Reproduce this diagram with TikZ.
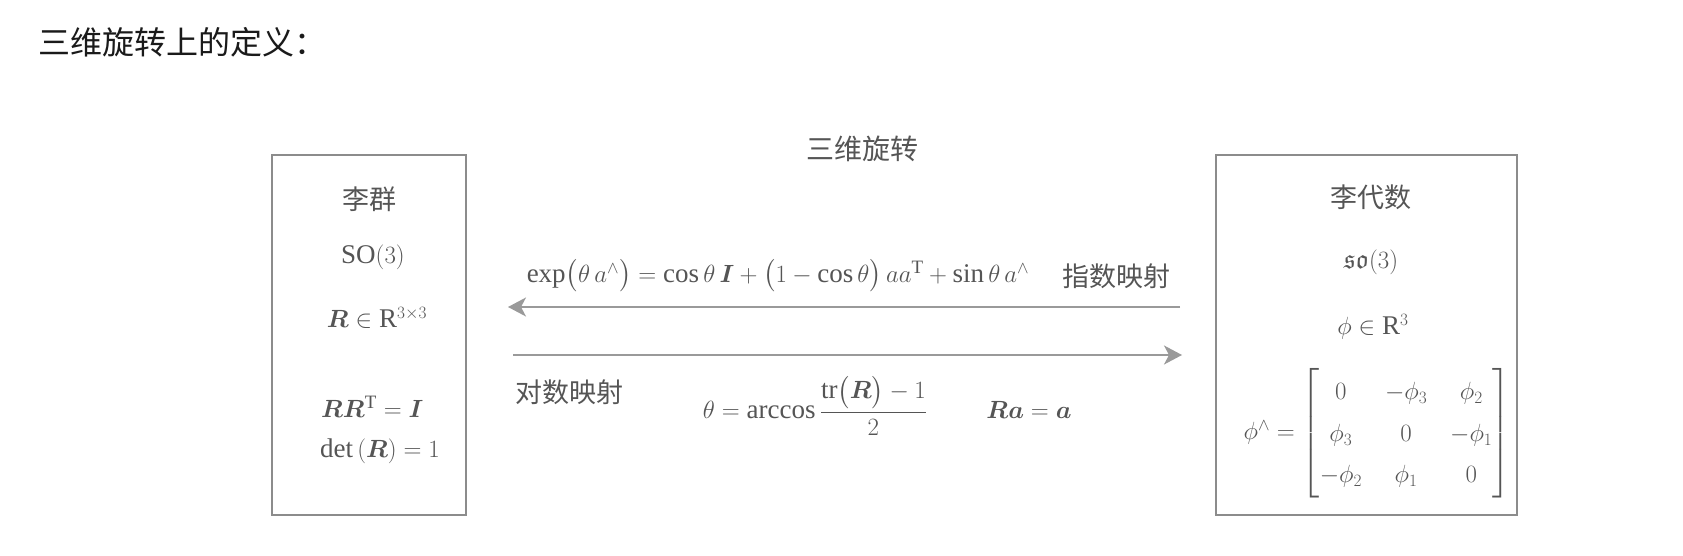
\documentclass[tikz,border=0pt]{standalone}
\usepackage{amsmath}
\usepackage{amssymb}
\usepackage{bm}
\usepackage{fontspec}
\setmainfont{Liberation Serif}
\newfontfamily\cjk{Noto Sans CJK SC}
\usetikzlibrary{arrows.meta}
\definecolor{txtgray}{HTML}{555555}
\definecolor{boxgray}{HTML}{8C8C8C}
\definecolor{arrgray}{HTML}{9A9A9A}
\definecolor{titleblk}{HTML}{1A1A1A}
\tikzset{
  box/.style={draw=boxgray, line width=1.8pt, inner sep=0pt},
  lbl/.style={font=\cjk\fontsize{27}{32}\selectfont, text=txtgray, inner sep=0pt},
  mth/.style={font=\fontsize{27}{32}\selectfont, text=txtgray, inner sep=0pt},
  arr/.style={draw=arrgray, line width=1.6pt, -{Stealth[length=18pt,width=19pt,inset=5pt,fill=arrgray]}}
}
\begin{document}
\begin{tikzpicture}[x=1pt,y=-1pt]
\fill[white] (0,0) rectangle (1683,556);
\path[use as bounding box] (0,0) rectangle (1683,556);

% title
\node[font=\cjk\fontsize{32}{38}\selectfont, text=titleblk, anchor=west, inner sep=0pt] (title) at (38,42) {三维旋转上的定义：};
\node[lbl, font=\cjk\fontsize{28}{33}\selectfont] (head) at (862,149) {三维旋转};

% boxes
\node[box, minimum width=194pt, minimum height=360pt] (lie) at (369,335) {};
\node[box, minimum width=301pt, minimum height=360pt] (alg) at (1366.5,335) {};

% left box content
\node[lbl] (lgrp) at (369,199) {李群};
\node[mth] (so3) at (373,257) {$\mathrm{SO}(3)$};
\node[mth] (rin) at (377,318) {$\bm{R}\in\mathrm{R}^{3\times3}$};
\node[mth, anchor=west] (rrt) at (321,407) {$\bm{R}\bm{R}^{\mathrm{T}}=\bm{I}$};
\node[mth, anchor=west] (det) at (320,451) {$\det\,(\bm{R})=1$};

% right box content
\node[lbl] (lalg) at (1371,197) {李代数};
\node[mth] (so3s) at (1371,262) {$\mathfrak{so}(3)$};
\node[mth] (phin) at (1373,327) {$\phi\in\mathrm{R}^{3}$};
\node[mth] (hat) at (1377,433) {{\arraycolsep=11.5pt\renewcommand\arraystretch{1.3}$\phi^{\wedge}=\begin{bmatrix}0&-\phi_3&\phi_2\\ \phi_3&0&-\phi_1\\ -\phi_2&\phi_1&0\end{bmatrix}$}};

% middle
\node[mth] (expf) at (778,276) {$\exp\bigl(\theta\, a^{\wedge}\bigr)=\cos\theta\,\bm{I}+\bigl(1-\cos\theta\bigr)\,aa^{\mathrm{T}}+\sin\theta\, a^{\wedge}$};
\node[lbl] (expl) at (1116,276) {指数映射};
\node[lbl, anchor=west] (logl) at (515,392) {对数映射};
\node[mth] (thf) at (815,406) {$\theta=\arccos\dfrac{\mathrm{tr}\bigl(\bm{R}\bigr)-1}{2}$};
\node[mth] (raa) at (1029,410) {$\bm{R}\bm{a}=\bm{a}$};

% arrows
\coordinate (t1) at (1180,307);
\coordinate (t0) at (508,307);
\coordinate (b0) at (513,355);
\coordinate (b1) at (1182,355);
\draw[arr] (t1) -- (t0);
\draw[arr] (b0) -- (b1);
\end{tikzpicture}
\end{document}
